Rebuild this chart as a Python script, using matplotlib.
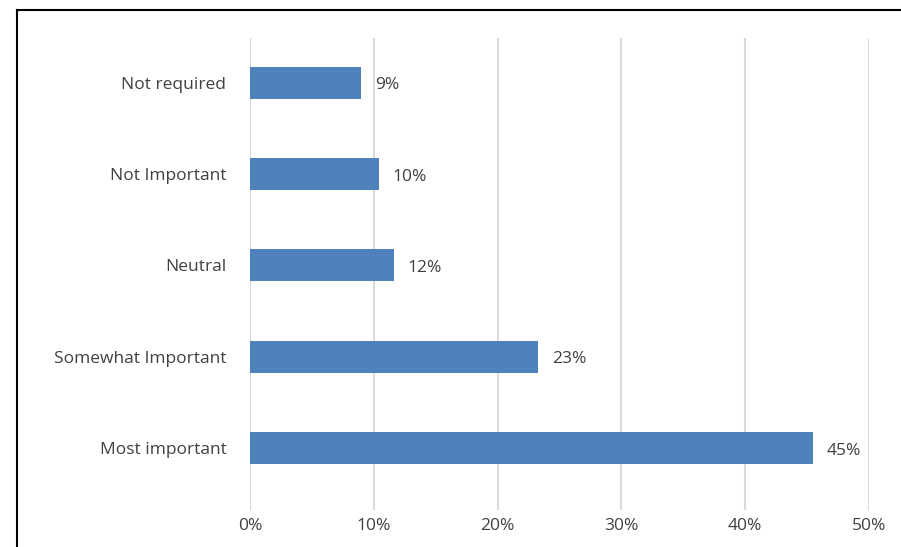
import matplotlib.pyplot as plt
from matplotlib.lines import Line2D

categories = ["Most important", "Somewhat Important", "Neutral", "Not Important", "Not required"]
values = [45.5, 23.3, 11.6, 10.4, 9.0]
labels = ["45%", "23%", "12%", "10%", "9%"]
xticks = [0, 10, 20, 30, 40, 50]

plt.rcParams['font.family'] = ['Open Sans', 'DejaVu Sans']
fig = plt.figure(figsize=(9.01, 5.47), dpi=100)
ax = fig.add_axes([250/901, 1-510/547, 619/901, 472/547])

ax.barh(range(len(categories)), values, height=0.35, color='#4f81bd', zorder=3)
for i, (v, t) in enumerate(zip(values, labels)):
    ax.text(v + 1.1, i - 0.03, t, va='center', ha='left', fontsize=12.5, color='#404040')

ax.set_xlim(0, 50)
ax.set_ylim(-0.68, 4.49)
ax.set_xticks(xticks)
ax.set_xticklabels([f"{x}%" for x in xticks], fontsize=12.5, color='#404040')
ax.set_yticks(range(len(categories)))
ax.set_yticklabels(categories, fontsize=12.5, color='#404040')
ax.tick_params(length=0, pad=6)
ax.tick_params(axis='y', pad=17)
ax.grid(axis='x', color='#d9d9d9', linewidth=1.5, zorder=0)
for s in ax.spines.values():
    s.set_visible(False)

# outer frame
fig.add_artist(Line2D([17/901, 17/901], [0, 1-10/547], color='black', lw=1.5, transform=fig.transFigure))
fig.add_artist(Line2D([17/901, 1], [1-10/547, 1-10/547], color='black', lw=1.5, transform=fig.transFigure))

fig.savefig("out.png", dpi=100)
